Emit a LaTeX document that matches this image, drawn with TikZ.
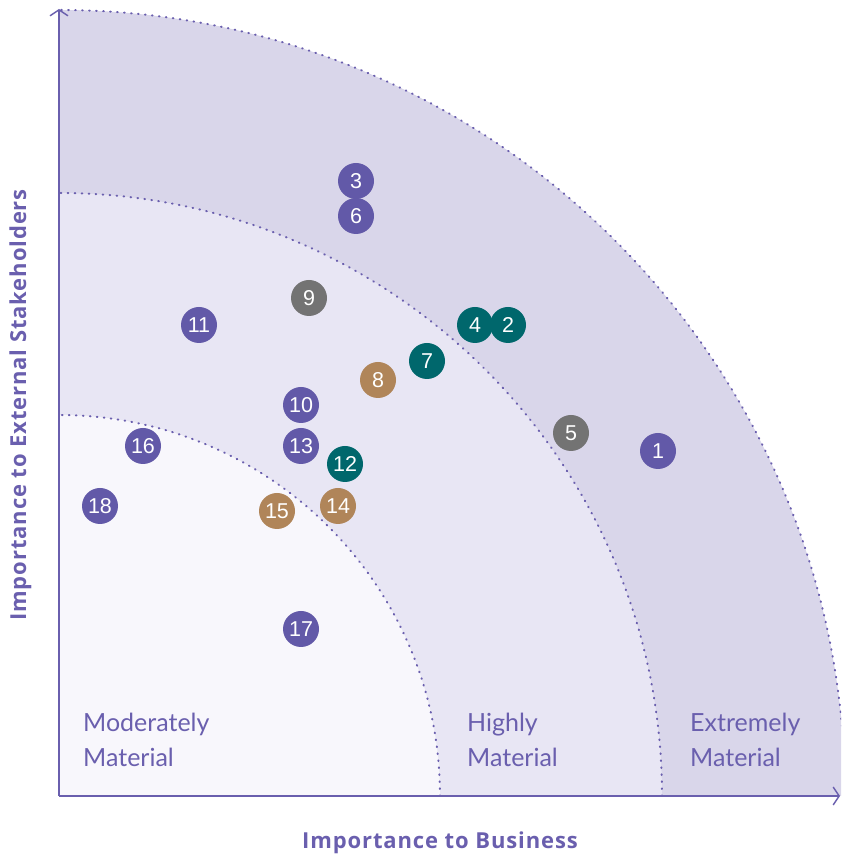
\documentclass[tikz,border=0pt]{standalone}
\usepackage{fontspec}
\setmainfont{Lato}
\newfontfamily\titlefont[LetterSpace=4]{Open Sans}
\newfontfamily\numfont{Liberation Sans}
\usetikzlibrary{arrows.meta,calc}
\definecolor{ring1}{HTML}{D9D6EA}
\definecolor{ring2}{HTML}{E8E6F4}
\definecolor{ring3}{HTML}{F8F7FC}
\definecolor{axiscol}{HTML}{6A5FAE}
\definecolor{cpurple}{HTML}{6259A8}
\definecolor{cteal}{HTML}{00676C}
\definecolor{cgray}{HTML}{737373}
\definecolor{cbrown}{HTML}{B08559}
\tikzset{
  dot/.style={circle, minimum size=36pt, inner sep=0pt, text=white, font=\numfont\fontsize{21.5}{21.5}\selectfont},
  pu/.style={dot, fill=cpurple},
  te/.style={dot, fill=cteal},
  gr/.style={dot, fill=cgray},
  br/.style={dot, fill=cbrown},
  zone/.style={text=axiscol, align=left, anchor=north west, inner sep=0pt, font=\fontsize{25}{35}\selectfont},
  boundary/.style={axiscol, line width=2pt, line cap=round, dash pattern=on 0.7pt off 6.3pt},
  axisline/.style={axiscol, line width=1.4pt, -{Straight Barb[length=6pt,width=18pt,line width=1.4pt]}},
  axtitle/.style={text=axiscol, font=\titlefont\fontsize{22}{22}\selectfont\bfseries}
}
\begin{document}
\begin{tikzpicture}[x=1pt,y=1pt]
\useasboundingbox (0,0) rectangle (841,857);
\coordinate (O) at (59,61);
\begin{scope}
\clip (0,0) rectangle (841,857);
\fill[ring1] (O) -- ++(786pt,0) arc[start angle=0,end angle=90,radius=786pt] -- cycle;
\fill[ring2] (O) -- ++(603pt,0) arc[start angle=0,end angle=90,radius=603pt] -- cycle;
\fill[ring3] (O) -- ++(381pt,0) arc[start angle=0,end angle=90,radius=381pt] -- cycle;
\draw[boundary] ($(O)+(786pt,0)$) arc[start angle=0,end angle=90,radius=786pt];
\draw[boundary] ($(O)+(603pt,0)$) arc[start angle=0,end angle=90,radius=603pt];
\draw[boundary] ($(O)+(381pt,0)$) arc[start angle=0,end angle=90,radius=381pt];
\end{scope}
\coordinate (Ytop) at (59,848);
\coordinate (Xend) at (840,61);
\draw[axisline] (O) -- (Ytop);
\draw[axisline] (O) -- (Xend);
\node[zone] (mod) at (83,144) {Moderately\\Material};
\node[zone] (high) at (467,144) {Highly\\Material};
\node[zone] (ext) at (690,144) {Extremely\\Material};
\node[axtitle, anchor=base] (xt) at (440,9) {Importance to Business};
\node[axtitle, anchor=base, rotate=90] (yt) at (26,452) {Importance to External Stakeholders};
\node[pu] (n3) at (356,676) {3};
\node[pu] (n6) at (356,641) {6};
\node[gr] (n9) at (309,559) {9};
\node[pu] (n11) at (199,532) {11};
\node[te] (n4) at (475,532) {4};
\node[te] (n2) at (508,532) {2};
\node[te] (n7) at (427,496) {7};
\node[br] (n8) at (378,477) {8};
\node[pu] (n10) at (301,452) {10};
\node[pu] (n16) at (143,411) {16};
\node[pu] (n13) at (301,411) {13};
\node[gr] (n5) at (571,424) {5};
\node[pu] (n1) at (658,406) {1};
\node[te] (n12) at (345,393) {12};
\node[pu] (n18) at (100,351) {18};
\node[br] (n15) at (277,346) {15};
\node[br] (n14) at (338,351) {14};
\node[pu] (n17) at (301,228) {17};
\end{tikzpicture}
\end{document}
